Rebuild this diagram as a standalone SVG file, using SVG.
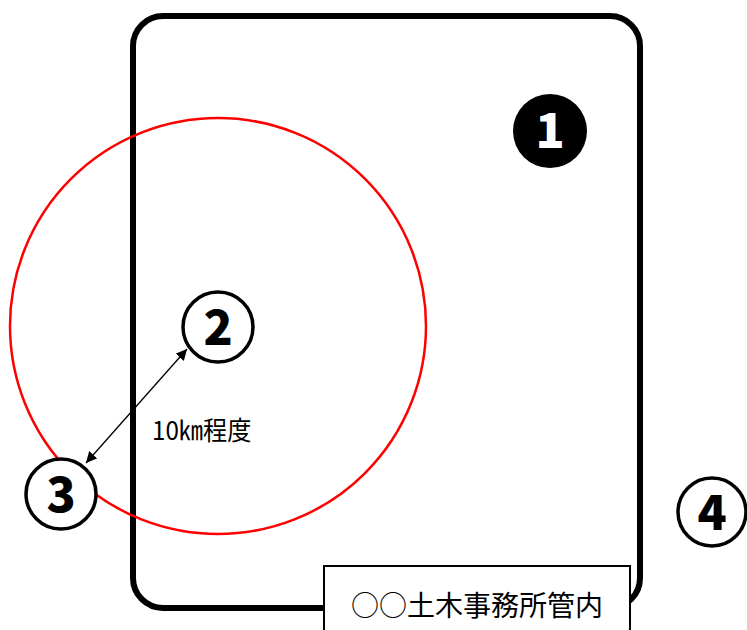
<svg xmlns="http://www.w3.org/2000/svg" width="747" height="630" viewBox="0 0 747 630">
<style>
.num{font-family:"Noto Sans CJK JP","DejaVu Sans",sans-serif;font-weight:900;font-size:48px;text-anchor:middle}
.ring{fill:#fff;stroke:#000;stroke-width:3.5}
.lbl{font-family:"Noto Sans CJK JP","Liberation Sans",sans-serif;font-size:28px;fill:#000}
</style>
<defs>
<marker id="ah" viewBox="0 0 10 10" refX="10" refY="5" markerWidth="11" markerHeight="11" markerUnits="userSpaceOnUse" orient="auto-start-reverse">
<path d="M0,0 L10,5 L0,10 z" fill="#000"/>
</marker>
</defs>
<rect width="747" height="630" fill="#fff"/>
<g id="area">
<rect x="133" y="16" width="507" height="592" rx="30" ry="30" fill="none" stroke="#000" stroke-width="6"/>
</g>
<g id="range">
<circle cx="218" cy="326" r="208" fill="none" stroke="#f00" stroke-width="2.5"/>
</g>
<g id="connectors">
<line x1="187" y1="349" x2="86" y2="463" stroke="#000" stroke-width="1.3" marker-start="url(#ah)" marker-end="url(#ah)"/>
<text x="152" y="440" font-family="Noto Sans CJK JP,Liberation Sans,sans-serif" font-size="26" transform="translate(152 0) scale(0.93 1) translate(-152 0)">10㎞程度</text>
</g>
<g id="node1">
<circle cx="550" cy="131" r="37" fill="#000"/>
<text class="num" x="550" y="148" fill="#fff" font-size="44">1</text>
</g>
<g id="node2">
<circle class="ring" cx="218" cy="327" r="35"/>
<text class="num" x="218" y="345">2</text>
</g>
<g id="node3">
<circle class="ring" cx="61" cy="494" r="35"/>
<text class="num" x="61" y="512">3</text>
</g>
<g id="node4">
<circle class="ring" cx="712" cy="512" r="34"/>
<text class="num" x="712" y="530">4</text>
</g>
<g id="label">
<rect x="324" y="566" width="306" height="70" fill="#fff" stroke="#000" stroke-width="2"/>
<text class="lbl" x="351" y="616">○○土木事務所管内</text>
</g>
</svg>
